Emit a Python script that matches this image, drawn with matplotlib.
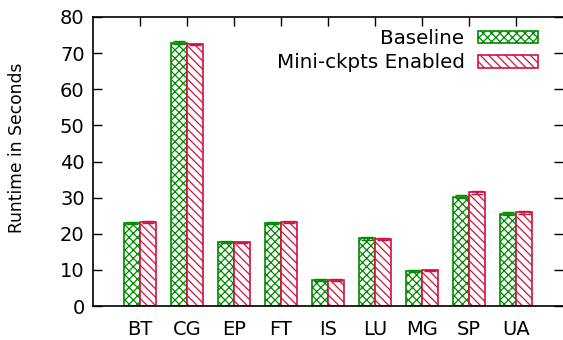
import matplotlib
matplotlib.use("Agg")
import matplotlib.pyplot as plt
import numpy as np

categories = ["BT", "CG", "EP", "FT", "IS", "LU", "MG", "SP", "UA"]
baseline = [23.0, 72.9, 17.7, 23.0, 7.2, 18.7, 9.7, 30.3, 25.6]
baseline_err = [0.3, 0.5, 0.2, 0.3, 0.2, 0.3, 0.2, 0.4, 0.3]
mini = [23.2, 72.4, 17.6, 23.2, 7.2, 18.6, 9.9, 31.5, 25.9]
mini_err = [0.2, 0.2, 0.2, 0.2, 0.2, 0.2, 0.2, 0.4, 0.4]
yticks = [0, 10, 20, 30, 40, 50, 60, 70, 80]

green = "#008a00"
red = "#d0123c"

plt.rcParams["font.family"] = ["DejaVu Sans"]
plt.rcParams["hatch.linewidth"] = 0.9

fig = plt.figure(figsize=(5.63, 3.40), dpi=100)
ax = fig.add_axes([93/563, 34/340, 1 - 93/563, (306-17)/340])

x = np.arange(1, len(categories) + 1)
w = 0.33
b1 = ax.bar(x - w/2, baseline, w, yerr=baseline_err, facecolor="white", edgecolor=green,
            hatch="xxxx", linewidth=1.2, label="Baseline",
            error_kw=dict(ecolor=green, capsize=4, elinewidth=1.0, capthick=1.0))
b2 = ax.bar(x + w/2, mini, w, yerr=mini_err, facecolor="white", edgecolor=red,
            hatch="\\\\\\\\", linewidth=1.2, label="Mini-ckpts Enabled",
            error_kw=dict(ecolor=red, capsize=4, elinewidth=1.0, capthick=1.0))

ax.set_xlim(0, 10)
ax.set_ylim(0, 80)
ax.set_yticks(yticks)
ax.set_xticks(x)
ax.set_xticklabels(categories)
ax.tick_params(axis="both", labelsize=14, colors="black")
ax.tick_params(axis="y", direction="in", length=6.5, width=1, right=True, pad=6)
ax.tick_params(axis="x", direction="in", length=6.5, width=1, top=True, bottom=False, pad=10)
ax.spines["right"].set_visible(False)
for s in ["left", "bottom", "top"]:
    ax.spines[s].set_linewidth(1.2)

ax.set_ylabel("Runtime in Seconds", fontsize=12.3)
ax.yaxis.set_label_coords(-(93 - 26) / 470, (306 - 148) / 289)

leg = ax.legend(loc="upper right", bbox_to_anchor=(0.972, 1.0), frameon=False, fontsize=14.3,
                markerfirst=False, handlelength=3.0, handleheight=0.6, labelspacing=0.28,
                handletextpad=0.7, borderaxespad=0.2)

fig.savefig("out.png", dpi=100)
